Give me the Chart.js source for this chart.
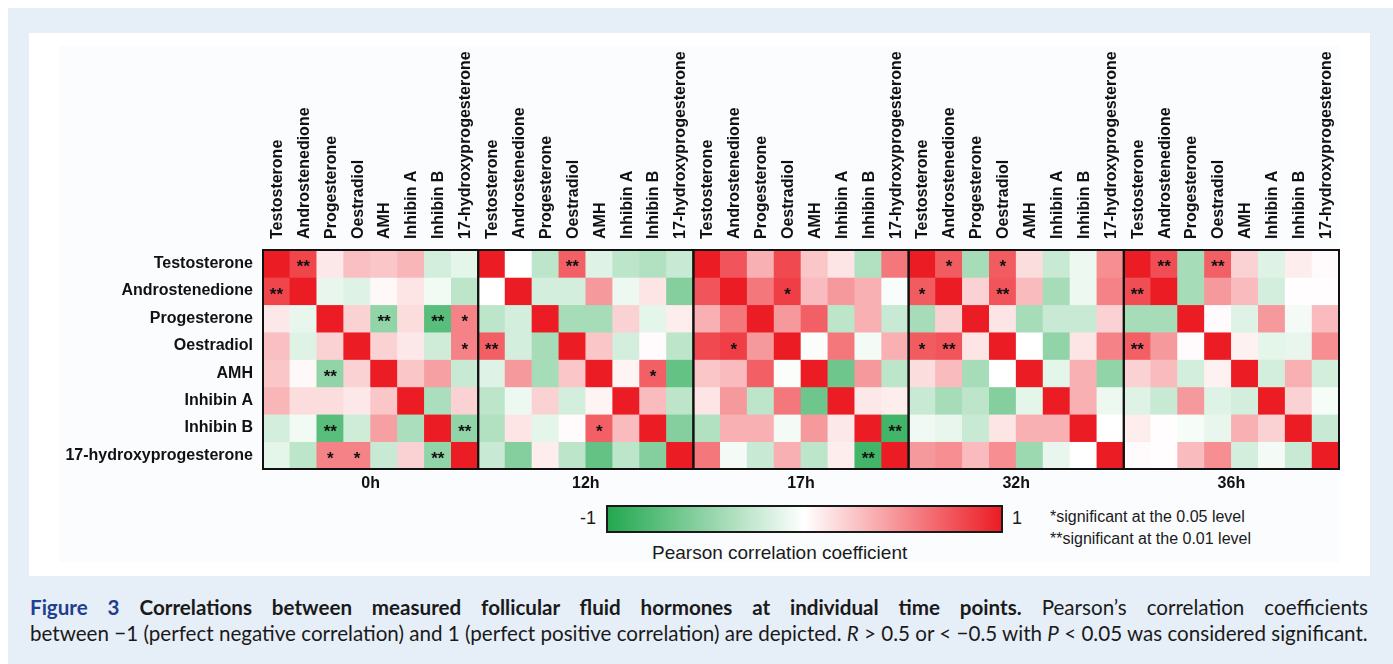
<!DOCTYPE html>
<html>
<head>
<meta charset="utf-8">
<script src="https://cdn.jsdelivr.net/npm/chart.js@4.4.1/dist/chart.umd.min.js"></script>
<style>
  body { margin: 0; background: #fff; width: 1393px; height: 664px; position: relative; overflow: hidden; font-family: "Liberation Sans", Arial, sans-serif; }
  .fundo { position: absolute; left: 8px; top: 8px; right: 0; bottom: 0; background: #e6eef8; }
  .painel { position: absolute; left: 29px; top: 33px; width: 1341px; height: 543px; background: #fff; }
  .imagem { position: absolute; left: 59px; top: 46px; width: 1281px; height: 516px; background: #fbfcfe; }
  #grafico { position: absolute; left: 0; top: 0; }
  .barra { position: absolute; left: 606px; top: 505px; width: 397px; height: 28px; box-sizing: border-box; border: 2px solid #1a1a1a;
    background: linear-gradient(to right, #22a84f, #ffffff, #ec1c24); }
  .txt { position: absolute; color: #1a1a1a; white-space: nowrap; }
  .legenda { position: absolute; left: 30px; width: 1338px; font-family: Lato, "Open Sans", sans-serif; font-size: 17.5px; color: #1a1a1a;
    white-space: nowrap; }
  .legenda span { display: inline-block; }
  .legenda b.fig { color: #1f3f8f; }
</style>
</head>
<body>
<div class="fundo"></div>
<div class="painel"></div>
<div class="imagem"></div>
<canvas id="grafico" width="1393" height="500"></canvas>
<div class="barra"></div>
<div class="txt" style="left:580px; top:508px; font-size:18px;">-1</div>
<div class="txt" style="left:1012px; top:508px; font-size:18px;">1</div>
<div class="txt" style="left:652px; top:542px; font-size:19px;">Pearson correlation coefficient</div>
<div class="txt" style="left:1050px; top:508px; font-size:16px;">*significant at the 0.05 level</div>
<div class="txt" style="left:1050px; top:530px; font-size:16px;">**significant at the 0.01 level</div>
<div class="legenda" style="top:595px;"><span id="linha1"><b class="fig">Figure 3</b> <b>Correlations between measured follicular fluid hormones at individual time points.</b> Pearson’s correlation coefficients</span></div>
<div class="legenda" style="top:621px;"><span id="linha2">between −1 (perfect negative correlation) and 1 (perfect positive correlation) are depicted. <i>R</i> &gt; 0.5 or &lt; −0.5 with <i>P</i> &lt; 0.05 was considered significant.</span></div>
<script>
const hormonios = ["Testosterone", "Androstenedione", "Progesterone", "Oestradiol", "AMH", "Inhibin A", "Inhibin B", "17-hydroxyprogesterone"];
const tempos = ["0h", "12h", "17h", "32h", "36h"];

// correlacoes (linha = hormonio, coluna = hormonio)
const r0h = [
  [1, 0.82, 0.1, 0.28, 0.25, 0.32, -0.2, -0.12],
  [0.82, 1, -0.1, -0.15, 0.03, 0.12, -0.06, -0.3],
  [0.1, -0.1, 1, 0.2, -0.5, 0.15, -0.75, 0.55],
  [0.28, -0.15, 0.2, 1, 0.2, 0.1, -0.22, 0.55],
  [0.25, 0.03, -0.5, 0.2, 1, 0.25, 0.42, -0.25],
  [0.32, 0.15, 0.15, 0.1, 0.25, 1, -0.38, 0.2],
  [-0.2, -0.06, -0.75, -0.22, 0.42, -0.38, 1, -0.5],
  [-0.12, -0.3, 0.55, 0.55, -0.25, 0.2, -0.5, 1]
];
const r12h = [
  [1, 0.0, -0.3, 0.7, -0.15, -0.3, -0.35, -0.25],
  [0.0, 1, -0.2, -0.2, 0.45, -0.08, 0.12, -0.55],
  [-0.3, -0.2, 1, -0.4, -0.4, 0.2, -0.12, 0.08],
  [0.7, -0.2, -0.4, 1, 0.25, -0.2, 0.02, -0.3],
  [-0.15, 0.45, -0.4, 0.25, 1, 0.05, 0.7, -0.7],
  [-0.3, -0.08, 0.2, -0.2, 0.05, 1, 0.3, -0.3],
  [-0.35, 0.12, -0.12, 0.02, 0.7, 0.3, 1, -0.55],
  [-0.25, -0.55, 0.08, -0.3, -0.7, -0.3, -0.55, 1]
];
const r17h = [
  [1, 0.75, 0.35, 0.8, 0.25, 0.12, -0.35, 0.6],
  [0.75, 1, 0.6, 0.85, 0.3, 0.45, 0.35, -0.03],
  [0.35, 0.6, 1, 0.45, 0.7, -0.3, 0.35, -0.25],
  [0.8, 0.85, 0.45, 1, -0.02, 0.6, -0.05, 0.35],
  [0.25, 0.3, 0.7, -0.02, 1, -0.65, 0.45, -0.3],
  [0.12, 0.45, -0.3, 0.6, -0.65, 1, 0.1, 0.08],
  [-0.35, 0.35, 0.35, -0.05, 0.45, 0.1, 1, -0.85],
  [0.6, -0.05, -0.25, 0.35, -0.3, 0.08, -0.85, 1]
];
const r32h = [
  [1, 0.72, -0.4, 0.72, 0.15, -0.25, -0.08, 0.5],
  [0.72, 1, 0.2, 0.75, 0.3, -0.4, -0.08, 0.55],
  [-0.4, 0.2, 1, 0.12, -0.4, -0.25, -0.25, 0.2],
  [0.72, 0.75, 0.12, 1, 0.0, -0.5, 0.12, 0.55],
  [0.15, 0.3, -0.4, 0.0, 1, -0.12, 0.35, -0.5],
  [-0.25, -0.4, -0.3, -0.55, -0.12, 1, 0.35, -0.08],
  [-0.07, -0.1, -0.25, 0.12, 0.35, 0.35, 1, 0.0],
  [0.45, 0.5, 0.3, 0.5, -0.45, -0.1, 0.0, 1]
];
const r36h = [
  [1, 0.78, -0.4, 0.7, 0.2, -0.15, 0.08, 0.02],
  [0.78, 1, -0.4, 0.45, 0.3, -0.2, 0.01, 0.01],
  [-0.4, -0.4, 1, 0.02, -0.15, 0.45, -0.05, 0.3],
  [0.7, 0.45, 0.02, 1, 0.06, -0.12, -0.1, 0.5],
  [0.2, 0.3, -0.2, 0.06, 1, -0.2, 0.35, -0.2],
  [-0.15, -0.25, 0.45, -0.15, -0.2, 1, 0.2, -0.04],
  [0.08, 0.01, -0.04, -0.1, 0.35, 0.2, 1, -0.25],
  [0.02, 0.01, 0.3, 0.5, -0.2, -0.05, -0.25, 1]
];

// significancia: 1 = *, 2 = **
const sig0h = [
  [0, 2, 0, 0, 0, 0, 0, 0],
  [2, 0, 0, 0, 0, 0, 0, 0],
  [0, 0, 0, 0, 2, 0, 2, 1],
  [0, 0, 0, 0, 0, 0, 0, 1],
  [0, 0, 2, 0, 0, 0, 0, 0],
  [0, 0, 0, 0, 0, 0, 0, 0],
  [0, 0, 2, 0, 0, 0, 0, 2],
  [0, 0, 1, 1, 0, 0, 2, 0]
];
const sig12h = [
  [0, 0, 0, 2, 0, 0, 0, 0],
  [0, 0, 0, 0, 0, 0, 0, 0],
  [0, 0, 0, 0, 0, 0, 0, 0],
  [2, 0, 0, 0, 0, 0, 0, 0],
  [0, 0, 0, 0, 0, 0, 1, 0],
  [0, 0, 0, 0, 0, 0, 0, 0],
  [0, 0, 0, 0, 1, 0, 0, 0],
  [0, 0, 0, 0, 0, 0, 0, 0]
];
const sig17h = [
  [0, 0, 0, 0, 0, 0, 0, 0],
  [0, 0, 0, 1, 0, 0, 0, 0],
  [0, 0, 0, 0, 0, 0, 0, 0],
  [0, 1, 0, 0, 0, 0, 0, 0],
  [0, 0, 0, 0, 0, 0, 0, 0],
  [0, 0, 0, 0, 0, 0, 0, 0],
  [0, 0, 0, 0, 0, 0, 0, 2],
  [0, 0, 0, 0, 0, 0, 2, 0]
];
const sig32h = [
  [0, 1, 0, 1, 0, 0, 0, 0],
  [1, 0, 0, 2, 0, 0, 0, 0],
  [0, 0, 0, 0, 0, 0, 0, 0],
  [1, 2, 0, 0, 0, 0, 0, 0],
  [0, 0, 0, 0, 0, 0, 0, 0],
  [0, 0, 0, 0, 0, 0, 0, 0],
  [0, 0, 0, 0, 0, 0, 0, 0],
  [0, 0, 0, 0, 0, 0, 0, 0]
];
const sig36h = [
  [0, 2, 0, 2, 0, 0, 0, 0],
  [2, 0, 0, 0, 0, 0, 0, 0],
  [0, 0, 0, 0, 0, 0, 0, 0],
  [2, 0, 0, 0, 0, 0, 0, 0],
  [0, 0, 0, 0, 0, 0, 0, 0],
  [0, 0, 0, 0, 0, 0, 0, 0],
  [0, 0, 0, 0, 0, 0, 0, 0],
  [0, 0, 0, 0, 0, 0, 0, 0]
];

const matrizes = [r0h, r12h, r17h, r32h, r36h];
const sigs = [sig0h, sig12h, sig17h, sig32h, sig36h];

// escala verde -> branco -> vermelho
const verde = [34, 168, 79];
const vermelho = [236, 28, 36];
function corPara(v) {
  const alvo = v < 0 ? verde : vermelho;
  const t = Math.min(1, Math.abs(v));
  const c = alvo.map(a => Math.round(255 + (a - 255) * t));
  return `rgb(${c[0]}, ${c[1]}, ${c[2]})`;
}

// 40 colunas: 8 hormonios x 5 tempos
const colunas = [];
tempos.forEach(() => hormonios.forEach(h => colunas.push(h)));

const datasets = hormonios.map((h, linha) => {
  const dados = [];
  const cores = [];
  matrizes.forEach(m => {
    m[linha].forEach(v => {
      dados.push([linha, linha + 1]);
      cores.push(corPara(v));
    });
  });
  return {
    label: h,
    data: dados,
    backgroundColor: cores,
    borderWidth: 0,
    grouped: false,
    barPercentage: 1,
    categoryPercentage: 1,
    xAxisID: "x",
    yAxisID: "y"
  };
});

const fonteTexto = "bold 16px 'Liberation Sans', Arial, sans-serif";

// nomes das colunas (rotulos do eixo x), asteriscos e bordas dos blocos
const pluginExtras = {
  id: "extras",
  afterDatasetsDraw(chart) {
    const ctx = chart.ctx;
    const x = chart.scales.x;
    const y = chart.scales.y;
    const larg = x.getPixelForValue(1) - x.getPixelForValue(0);
    ctx.save();
    ctx.fillStyle = "#111";

    // rotulos verticais no topo
    ctx.font = fonteTexto;
    ctx.textAlign = "left";
    ctx.textBaseline = "middle";
    colunas.forEach((c, i) => {
      ctx.save();
      ctx.translate(x.getPixelForValue(i) + 1, x.bottom - 11);
      ctx.rotate(-Math.PI / 2);
      ctx.fillText(c, 0, 0);
      ctx.restore();
    });

    ctx.font = "bold 17px 'Liberation Sans', Arial, sans-serif";
    ctx.textAlign = "center";
    sigs.forEach((s, b) => {
      s.forEach((linha, i) => {
        linha.forEach((n, j) => {
          if (!n) return;
          const cx = x.getPixelForValue(b * 8 + j);
          const cy = y.getPixelForValue(i + 0.5) + 4;
          ctx.fillText(n === 2 ? "**" : "*", cx, cy);
        });
      });
    });
    ctx.strokeStyle = "#111";
    ctx.lineWidth = 2;
    tempos.forEach((t, b) => {
      const esq = x.getPixelForValue(b * 8) - larg / 2;
      const topo = y.getPixelForValue(0);
      const base = y.getPixelForValue(8);
      ctx.strokeRect(esq, topo, larg * 8, base - topo);
    });
    ctx.restore();
  }
};

const fonteEixo = { family: "'Liberation Sans', Arial, sans-serif", size: 16, weight: "bold" };

new Chart(document.getElementById("grafico").getContext("2d"), {
  type: "bar",
  data: { labels: colunas, datasets: datasets },
  options: {
    responsive: false,
    animation: false,
    layout: { padding: { top: 0, right: 54, bottom: 6, left: 0 } },
    plugins: { legend: { display: false }, tooltip: { enabled: false } },
    scales: {
      x: {
        type: "category",
        position: "top",
        grid: { display: false, drawTicks: false },
        border: { display: false },
        ticks: { display: false },
        afterFit: (s) => { s.height = 250; }
      },
      x2: {
        type: "category",
        labels: tempos,
        position: "bottom",
        grid: { display: false, drawTicks: false },
        border: { display: false },
        ticks: { padding: 5, color: "#111", font: fonteEixo },
        afterFit: (s) => { s.height = 25; }
      },
      y: {
        type: "linear",
        min: 0,
        max: 8,
        reverse: true,
        grid: { display: false, drawTicks: false },
        border: { display: false },
        afterBuildTicks: (s) => { s.ticks = hormonios.map((h, i) => ({ value: i + 0.5 })); },
        ticks: { padding: 10, color: "#111", font: fonteEixo, callback: (v, i) => hormonios[i] },
        afterFit: (s) => { s.width = 263; }
      }
    }
  },
  plugins: [pluginExtras]
});

// legenda: a 2a linha define o tamanho, a 1a linha e justificada com espacamento entre palavras
const l1 = document.getElementById("linha1");
const l2 = document.getElementById("linha2");
const tam = Math.min(21, 17.5 * 1338 / l2.getBoundingClientRect().width);
l1.style.fontSize = tam.toFixed(2) + "px";
l2.style.fontSize = tam.toFixed(2) + "px";
const w1 = l1.getBoundingClientRect().width;
const espacos = (l1.textContent.match(/ /g) || []).length;
l1.style.wordSpacing = ((1338 - w1) / espacos).toFixed(2) + "px";
</script>
</body>
</html>
